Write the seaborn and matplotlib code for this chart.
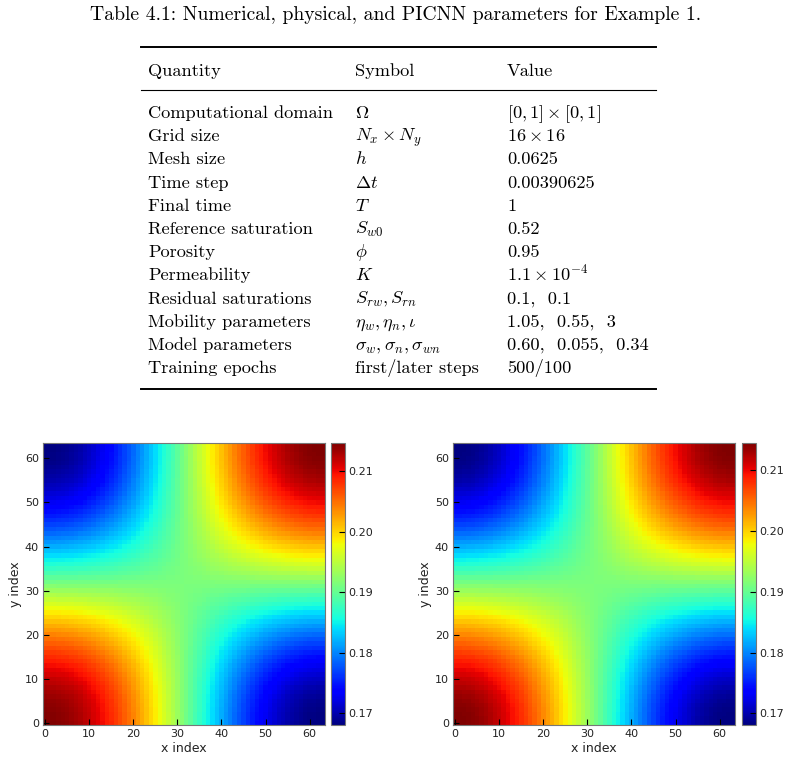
import numpy as np
import matplotlib
matplotlib.use("Agg")
import matplotlib.pyplot as plt
import seaborn as sns

# table contents
title = "Table 4.1: Numerical, physical, and PICNN parameters for Example 1."
header = ["Quantity", "Symbol", "Value"]
quantities = ["Computational domain", "Grid size", "Mesh size", "Time step", "Final time",
              "Reference saturation", "Porosity", "Permeability", "Residual saturations",
              "Mobility parameters", "Model parameters", "Training epochs"]
symbols = [r"$\Omega$", r"$N_x \times N_y$", r"$h$", r"$\Delta t$", r"$T$", r"$S_{w0}$",
           r"$\phi$", r"$K$", r"$S_{rw}, S_{rn}$", r"$\eta_w, \eta_n, \iota$",
           r"$\sigma_w, \sigma_n, \sigma_{wn}$", "first/later steps"]
values = [r"$[0, 1] \times [0, 1]$", r"$16 \times 16$", "0.0625", "0.00390625", "1", "0.52",
          "0.95", r"$1.1 \times 10^{-4}$", "0.1,  0.1", "1.05,  0.55,  3",
          "0.60,  0.055,  0.34", "500/100"]

# saturation along the bottom row (x index 0..63)
left_row = [0.2147, 0.2146, 0.2146, 0.2144, 0.2142, 0.2140, 0.2137, 0.2133, 0.2129, 0.2124,
            0.2119, 0.2113, 0.2106, 0.2100, 0.2092, 0.2085, 0.2077, 0.2068, 0.2059, 0.2050,
            0.2040, 0.2030, 0.2020, 0.2010, 0.1999, 0.1988, 0.1977, 0.1965, 0.1954, 0.1943,
            0.1931, 0.1919, 0.1908, 0.1896, 0.1884, 0.1873, 0.1862, 0.1850, 0.1839, 0.1828,
            0.1817, 0.1807, 0.1797, 0.1787, 0.1777, 0.1768, 0.1759, 0.1750, 0.1742, 0.1735,
            0.1727, 0.1721, 0.1714, 0.1708, 0.1703, 0.1698, 0.1694, 0.1690, 0.1687, 0.1684,
            0.1682, 0.1681, 0.1680, 0.1680]
right_row = [0.2145, 0.2145, 0.2144, 0.2143, 0.2141, 0.2138, 0.2135, 0.2131, 0.2126, 0.2121,
             0.2116, 0.2110, 0.2103, 0.2096, 0.2089, 0.2081, 0.2073, 0.2064, 0.2055, 0.2046,
             0.2036, 0.2027, 0.2017, 0.2007, 0.1996, 0.1985, 0.1974, 0.1963, 0.1952, 0.1941,
             0.1930, 0.1919, 0.1908, 0.1897, 0.1885, 0.1874, 0.1862, 0.1851, 0.1840, 0.1829,
             0.1818, 0.1808, 0.1798, 0.1788, 0.1778, 0.1769, 0.1760, 0.1751, 0.1743, 0.1736,
             0.1729, 0.1722, 0.1716, 0.1710, 0.1704, 0.1699, 0.1695, 0.1691, 0.1688, 0.1685,
             0.1683, 0.1682, 0.1681, 0.1681]
left_center = 0.19135
right_center = 0.19130
tick_vals = [0, 10, 20, 30, 40, 50, 60]
cbar_ticks = [0.17, 0.18, 0.19, 0.20, 0.21]


def saddle(row, center):
    # the maps are symmetric in x and y: build the 2D field from the edge profile
    r = np.array(row) - center
    return center + np.outer(r, r) / r[0]


W, H = 791, 782
fig = plt.figure(figsize=(W / 100, H / 100), dpi=100)
plt.rcParams["mathtext.fontset"] = "cm"

# ---- table, drawn in pixel coordinates ----
tab = fig.add_axes([0, 0, 1, 1])
tab.set_xlim(0, W)
tab.set_ylim(H, 0)
tab.axis("off")
fs = 13.2
cm = dict(fontfamily="cmr10", fontsize=fs, va="baseline")
tab.text(396, 20, title, ha="center", fontfamily="cmr10", fontsize=14.2, va="baseline")
cols = [148, 355, 507]
tab.plot([141, 656], [47, 47], color="black", lw=1.4)
for cx, h in zip(cols, header):
    tab.text(cx, 76, h, **cm)
tab.plot([141, 656], [90, 90], color="black", lw=0.8)
row_y = 112
for q, s, v in zip(quantities, symbols, values):
    tab.text(cols[0], row_y + 6, q, **cm)
    tab.text(cols[1], row_y + 6, s, **cm)
    tab.text(cols[2], row_y + 6, v, **cm)
    row_y += 23.2
tab.plot([141, 656], [389, 389], color="black", lw=1.4)

# ---- heatmaps ----
panels = [(left_row, left_center, 43, 331), (right_row, right_center, 453, 742)]
for row, center, ax_left, cb_left in panels:
    field = saddle(row, center)
    ax = fig.add_axes([ax_left / W, 1 - 725 / H, 282 / W, 282 / H])
    cax = fig.add_axes([cb_left / W, 1 - 725 / H, 13.5 / W, 282 / H])
    sns.heatmap(field, cmap="jet", ax=ax, cbar_ax=cax,
                xticklabels=False, yticklabels=False, square=False)
    ax.invert_yaxis()
    ax.set_xticks(np.array(tick_vals) + 0.5)
    ax.set_xticklabels(tick_vals)
    ax.set_yticks(np.array(tick_vals) + 0.5)
    ax.set_yticklabels(tick_vals, rotation=0)
    ax.tick_params(direction="in", length=4, width=0.8, color="black", labelsize=8,
                   pad=3, labelcolor="#222222")
    for sp in ax.spines.values():
        sp.set_visible(True)
        sp.set_color("#777777")
        sp.set_linewidth(0.8)
    ax.set_xlabel("x index", fontsize=9, labelpad=2, color="#222222")
    ax.set_ylabel("y index", fontsize=9, labelpad=2, color="#222222")

    cbar = ax.collections[0].colorbar
    cbar.set_ticks(cbar_ticks)
    cbar.set_ticklabels(["%.2f" % t for t in cbar_ticks])
    cax.tick_params(direction="in", length=4, width=0.8, color="black", labelsize=8,
                    pad=3, labelcolor="#222222")
    cax.yaxis.set_ticks_position("right")
    cbar.outline.set_visible(True)
    cbar.outline.set_edgecolor("#777777")
    cbar.outline.set_linewidth(0.8)

fig.savefig("out.png", dpi=100)
